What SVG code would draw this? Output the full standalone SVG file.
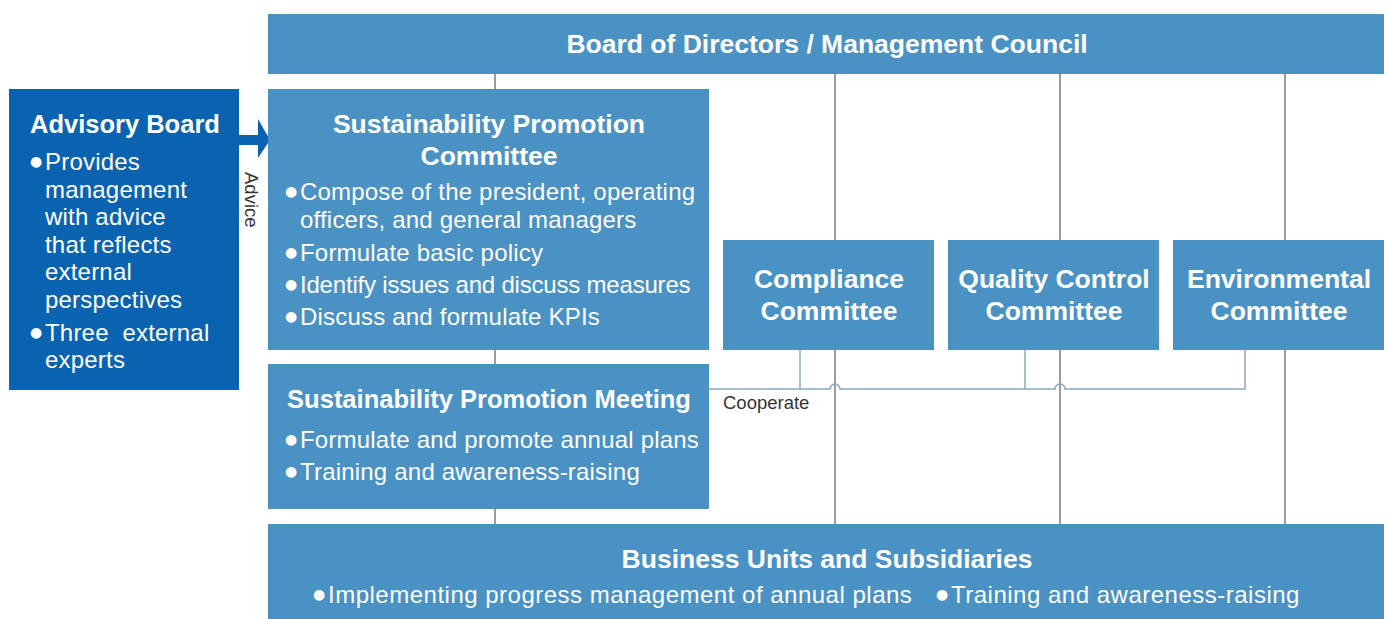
<svg xmlns="http://www.w3.org/2000/svg" width="1389" height="619" viewBox="0 0 1389 619">
<style>
.box{fill:#4a91c4}
.dark{fill:#0a63b0}
.t{font-family:"Liberation Sans",Arial,sans-serif;fill:#fff}
.title{font-size:26.5px;font-weight:bold}
.b{font-size:24px;letter-spacing:0.2px}
.d{font-family:"DejaVu Sans",sans-serif;font-size:14px;letter-spacing:0}
.ln{stroke:#7a7a7a;stroke-width:1.5;fill:none}
.co{stroke:#8aa8c2;stroke-width:1.5;fill:none}
.lbl{font-family:"Liberation Sans",Arial,sans-serif;font-size:18.5px;fill:#333}
</style>
<rect width="1389" height="619" fill="#fff"/>
<g id="connectors">
<line class="ln" x1="495" y1="74" x2="495" y2="90"/>
<line class="ln" x1="495" y1="350" x2="495" y2="365"/>
<line class="ln" x1="495" y1="509" x2="495" y2="525"/>
<line class="ln" x1="835" y1="74" x2="835" y2="525"/>
<line class="ln" x1="1060" y1="74" x2="1060" y2="525"/>
<line class="ln" x1="1285" y1="74" x2="1285" y2="525"/>
<path class="co" d="M709 389 H830 A5 5 0 0 1 840 389 H1055 A5 5 0 0 1 1065 389 H1245 V350 M800 350 V389 M1025 350 V389"/>
<path d="M239 135 H258 V119 L270 140 L258 158 V145 H239 Z" fill="#0a63b0"/>
<text class="lbl" transform="translate(245,172) rotate(90)">Advice</text>
<text class="lbl" x="723" y="409">Cooperate</text>
</g>
<g id="board">
<rect class="box" x="268" y="14" width="1116" height="60"/>
<text class="t title" x="827" y="53" text-anchor="middle">Board of Directors / Management Council</text>
</g>
<g id="advisory">
<rect class="dark" x="9" y="89" width="230" height="301"/>
<text class="t title" x="30" y="133" style="font-size:25.5px">Advisory Board</text>
<text class="t b" x="30" y="170"><tspan class="d" dy="-4">●</tspan><tspan x="45" dy="4">Provides</tspan></text>
<text class="t b" x="45" y="198">management</text>
<text class="t b" x="45" y="225">with advice</text>
<text class="t b" x="45" y="253">that reflects</text>
<text class="t b" x="45" y="280">external</text>
<text class="t b" x="45" y="308">perspectives</text>
<text class="t b" x="30" y="341"><tspan class="d" dy="-4">●</tspan><tspan x="45" dy="4">Three&#160; external</tspan></text>
<text class="t b" x="45" y="368">experts</text>
</g>
<g id="spc">
<rect class="box" x="268" y="89" width="441" height="261"/>
<text class="t title" x="489" y="133" text-anchor="middle">Sustainability Promotion</text>
<text class="t title" x="489" y="165" text-anchor="middle">Committee</text>
<text class="t b" x="285" y="200"><tspan class="d" dy="-4">●</tspan><tspan x="300" dy="4">Compose of the president, operating</tspan></text>
<text class="t b" x="300" y="228">officers, and general managers</text>
<text class="t b" x="285" y="261"><tspan class="d" dy="-4">●</tspan><tspan x="300" dy="4">Formulate basic policy</tspan></text>
<text class="t b" x="285" y="293" style="letter-spacing:-0.2px"><tspan class="d" dy="-4">●</tspan><tspan x="300" dy="4">Identify issues and discuss measures</tspan></text>
<text class="t b" x="285" y="325"><tspan class="d" dy="-4">●</tspan><tspan x="300" dy="4">Discuss and formulate KPIs</tspan></text>
</g>
<g id="spm">
<rect class="box" x="268" y="364" width="441" height="145"/>
<text class="t title" x="489" y="408" text-anchor="middle" style="font-size:25.5px">Sustainability Promotion Meeting</text>
<text class="t b" x="285" y="448"><tspan class="d" dy="-4">●</tspan><tspan x="300" dy="4">Formulate and promote annual plans</tspan></text>
<text class="t b" x="285" y="480"><tspan class="d" dy="-4">●</tspan><tspan x="300" dy="4">Training and awareness-raising</tspan></text>
</g>
<g id="compliance">
<rect class="box" x="723" y="240" width="211" height="110"/>
<text class="t title" x="829" y="288" text-anchor="middle">Compliance</text>
<text class="t title" x="829" y="320" text-anchor="middle">Committee</text>
</g>
<g id="quality">
<rect class="box" x="948" y="240" width="211" height="110"/>
<text class="t title" x="1054" y="288" text-anchor="middle">Quality Control</text>
<text class="t title" x="1054" y="320" text-anchor="middle">Committee</text>
</g>
<g id="environmental">
<rect class="box" x="1173" y="240" width="211" height="110"/>
<text class="t title" x="1279" y="288" text-anchor="middle">Environmental</text>
<text class="t title" x="1279" y="320" text-anchor="middle">Committee</text>
</g>
<g id="business">
<rect class="box" x="268" y="524" width="1116" height="95"/>
<text class="t title" x="827" y="568" text-anchor="middle">Business Units and Subsidiaries</text>
<text class="t b" x="313" y="603" style="letter-spacing:0.5px"><tspan class="d" dy="-4">●</tspan><tspan x="328" dy="4">Implementing progress management of annual plans</tspan><tspan class="d" x="936" dy="-4">●</tspan><tspan x="951" dy="4">Training and awareness-raising</tspan></text>
</g>
</svg>
